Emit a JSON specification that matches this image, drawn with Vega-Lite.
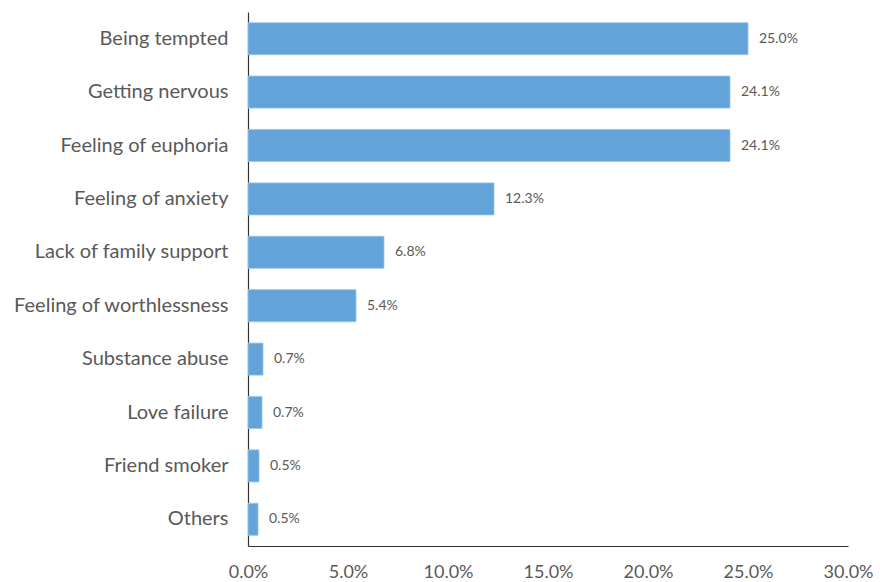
{
  "$schema": "https://vega.github.io/schema/vega-lite/v6.json",
  "autosize": "none",
  "width": 600,
  "height": 534,
  "padding": {"left": 248, "top": 12, "right": 32, "bottom": 36},
  "background": "white",
  "config": {"view": {"stroke": null}, "font": "Lato"},
  "data": {"values": [
    {"reason": "Being tempted", "pct": 25.0, "label": "25.0%"},
    {"reason": "Getting nervous", "pct": 24.1, "label": "24.1%"},
    {"reason": "Feeling of euphoria", "pct": 24.1, "label": "24.1%"},
    {"reason": "Feeling of anxiety", "pct": 12.3, "label": "12.3%"},
    {"reason": "Lack of family support", "pct": 6.8, "label": "6.8%"},
    {"reason": "Feeling of worthlessness", "pct": 5.4, "label": "5.4%"},
    {"reason": "Substance abuse", "pct": 0.75, "label": "0.7%"},
    {"reason": "Love failure", "pct": 0.7, "label": "0.7%"},
    {"reason": "Friend smoker", "pct": 0.55, "label": "0.5%"},
    {"reason": "Others", "pct": 0.5, "label": "0.5%"}
  ]},
  "encoding": {
    "y": {"field": "reason", "type": "nominal", "sort": null,
      "scale": {"paddingInner": 0.4, "paddingOuter": 0.2},
      "axis": {"title": null, "ticks": false, "labelFontSize": 20, "labelColor": "#595959", "labelPadding": 20, "labelLimit": 300, "domainColor": "#333333", "domainWidth": 1.2, "labelFont": "Lato"}},
    "x": {"field": "pct", "type": "quantitative",
      "scale": {"domain": [0, 30]},
      "axis": {"title": null, "values": [0, 5, 10, 15, 20, 25, 30], "labelExpr": "format(datum.value, '.1f') + '%'", "labelFlush": false, "grid": false, "ticks": false, "labelFontSize": 18, "labelColor": "#595959", "labelPadding": 17, "domainColor": "#333333", "domainWidth": 1.2, "labelFont": "Lato"}}
  },
  "layer": [
    {"mark": {"type": "bar", "color": "#62a3d9", "stroke": "#9cc5ea", "strokeWidth": 0.8}},
    {"mark": {"type": "text", "align": "left", "dx": 11, "fontSize": 14, "color": "#595959", "font": "Lato"},
      "encoding": {"text": {"field": "label", "type": "nominal"}}}
  ]
}
